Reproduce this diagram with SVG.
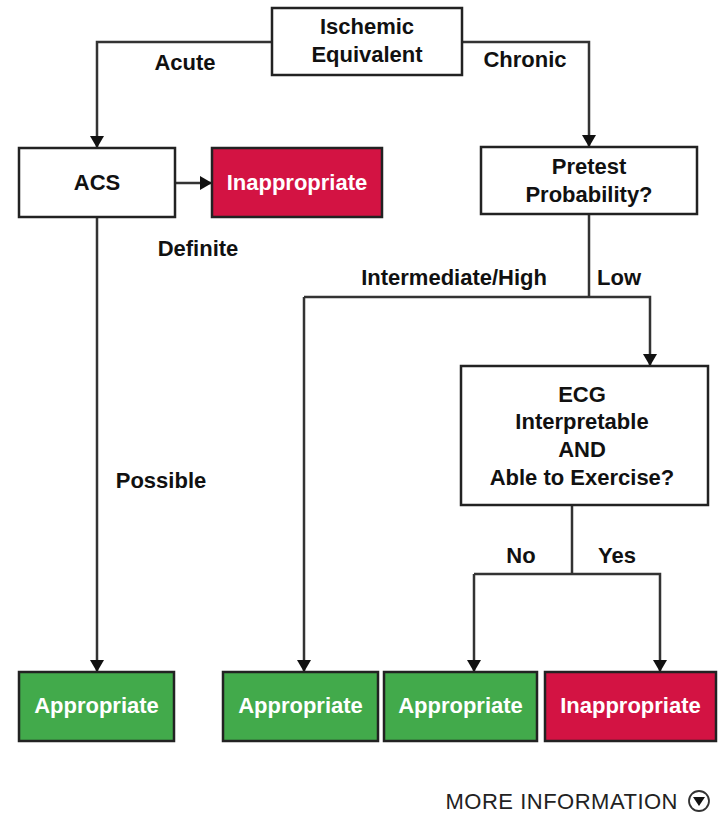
<svg xmlns="http://www.w3.org/2000/svg" width="721" height="813" viewBox="0 0 721 813">
<defs>
<style>
.box{fill:#fff;stroke:#222;stroke-width:2.5}
.green{fill:#42aa4b;stroke:#222;stroke-width:2.5}
.red{fill:#d31343;stroke:#222;stroke-width:2.5}
text{font-family:"Liberation Sans",Arial,sans-serif;font-weight:bold;font-size:22px;text-anchor:middle;fill:#111}
.w{fill:#fff}
.conn{fill:none;stroke:#333;stroke-width:2.5}
</style>
<marker id="ah" markerUnits="userSpaceOnUse" markerWidth="12" markerHeight="14" viewBox="0 0 12 14" refX="12" refY="7" orient="auto">
<path d="M0,0 L12,7 L0,14 Z" fill="#111"/>
</marker>
</defs>
<rect width="721" height="813" fill="#fff"/>

<g id="connectors">
<path class="conn" d="M272,42 H97 V148" marker-end="url(#ah)"/>
<path class="conn" d="M462,42 H589 V147" marker-end="url(#ah)"/>
<path class="conn" d="M175,183 H212" marker-end="url(#ah)"/>
<path class="conn" d="M97,217 V672" marker-end="url(#ah)"/>
<path class="conn" d="M589,214 V297"/>
<path class="conn" d="M304,297 H650 V366" marker-end="url(#ah)"/>
<path class="conn" d="M304,297 V672" marker-end="url(#ah)"/>
<path class="conn" d="M572,505 V574"/>
<path class="conn" d="M474,574 H660 V672" marker-end="url(#ah)"/>
<path class="conn" d="M474,574 V672" marker-end="url(#ah)"/>
</g>

<g id="labels">
<text x="185" y="70">Acute</text>
<text x="525" y="67">Chronic</text>
<text x="198" y="256">Definite</text>
<text x="161" y="488">Possible</text>
<text x="547" y="285" style="text-anchor:end">Intermediate/High</text>
<text x="597" y="285" style="text-anchor:start">Low</text>
<text x="521" y="563">No</text>
<text x="617" y="563">Yes</text>
</g>

<g id="ischemic">
<rect class="box" x="272" y="8" width="190" height="67"/>
<text x="367" y="34">Ischemic</text>
<text x="367" y="62">Equivalent</text>
</g>

<g id="acs">
<rect class="box" x="19" y="148" width="156" height="69"/>
<text x="97" y="190">ACS</text>
</g>

<g id="inappropriate1">
<rect class="red" x="212" y="148" width="170" height="69"/>
<text class="w" x="297" y="190">Inappropriate</text>
</g>

<g id="pretest">
<rect class="box" x="481" y="147" width="216" height="67"/>
<text x="589" y="174">Pretest</text>
<text x="589" y="202">Probability?</text>
</g>

<g id="ecg">
<rect class="box" x="461" y="366" width="247" height="139"/>
<text x="582" y="402">ECG</text>
<text x="582" y="429">Interpretable</text>
<text x="582" y="457">AND</text>
<text x="582" y="485">Able to Exercise?</text>
</g>

<g id="appropriate1">
<rect class="green" x="19" y="672" width="155" height="69"/>
<text class="w" x="96.5" y="713">Appropriate</text>
</g>

<g id="appropriate2">
<rect class="green" x="223" y="672" width="155" height="69"/>
<text class="w" x="300.5" y="713">Appropriate</text>
</g>

<g id="appropriate3">
<rect class="green" x="384" y="672" width="153" height="69"/>
<text class="w" x="460.5" y="713">Appropriate</text>
</g>

<g id="inappropriate2">
<rect class="red" x="545" y="672" width="171" height="69"/>
<text class="w" x="630.5" y="713">Inappropriate</text>
</g>

<g id="more-info">
<text x="678" y="809" style="text-anchor:end;font-weight:normal;font-size:22px;letter-spacing:0.5px;fill:#222">MORE INFORMATION</text>
<circle cx="699" cy="801" r="10" fill="#fff" stroke="#333" stroke-width="1.8"/>
<path d="M693,797 H705 L699,806 Z" fill="#111"/>
</g>
</svg>
